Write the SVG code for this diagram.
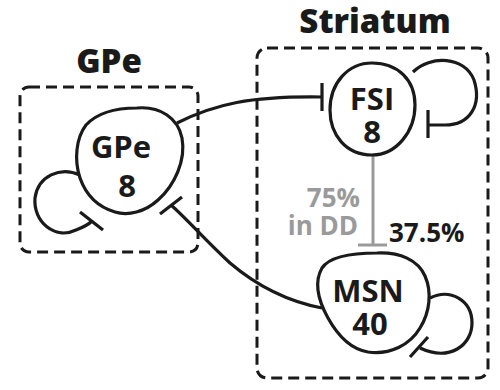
<svg xmlns="http://www.w3.org/2000/svg" width="500" height="390" viewBox="0 0 500 390">
  <style>
    .region { fill: none; stroke: #1a1a1a; stroke-width: 3; stroke-dasharray: 11 6; }
    .title { font-family: "Open Sans", "Liberation Sans", sans-serif; font-weight: 800; font-size: 33px; fill: #1a1a1a; text-anchor: middle; }
    .cell { fill: #ffffff; stroke: #1a1a1a; stroke-width: 3.2; }
    .label { font-family: "Open Sans", "Liberation Sans", sans-serif; font-weight: 700; font-size: 31px; fill: #1a1a1a; text-anchor: middle; }
    .edge { fill: none; stroke: #1a1a1a; stroke-width: 3.2; stroke-linecap: butt; }
    .gray { fill: none; stroke: #9a9a9a; stroke-width: 3; }
    .pct { font-family: "Open Sans", "Liberation Sans", sans-serif; font-weight: 700; font-size: 26px; }
  </style>

  <!-- regions -->
  <g id="region-gpe">
    <rect class="region" x="20" y="87" width="178" height="165" rx="9"/>
    <text class="title" x="109" y="73">GPe</text>
  </g>
  <g id="region-striatum">
    <rect class="region" x="257" y="48" width="231" height="330" rx="10"/>
    <text class="title" x="375" y="33">Striatum</text>
  </g>

  <!-- connectors -->
  <g id="connectors">
    <!-- GPe self inhibition -->
    <path class="edge" d="M 80,175 C 60,166 38,176 35,198 C 33,222 55,240 76,230 C 84,227 89,224 92,221"/>
    <line class="edge" x1="80" y1="212" x2="103" y2="230"/>
    <!-- GPe to FSI -->
    <path class="edge" d="M 177,123 C 215,104 250,96 322,97"/>
    <line class="edge" x1="322" y1="83" x2="322" y2="111"/>
    <!-- MSN to GPe -->
    <path class="edge" d="M 322,308 C 280,300 250,280 230,263 C 205,240 188,220 171,205"/>
    <line class="edge" x1="160" y1="214" x2="182" y2="197"/>
    <!-- FSI self inhibition -->
    <path class="edge" d="M 413,72 C 430,55 465,56 474,80 C 482,105 470,125 445,125 L 428,125"/>
    <line class="edge" x1="428" y1="110" x2="428" y2="138"/>
    <!-- MSN self inhibition -->
    <path class="edge" d="M 430,298 C 450,288 472,300 472,323 C 472,345 450,362 420,348"/>
    <line class="edge" x1="410" y1="357" x2="428" y2="337"/>
    <!-- FSI to MSN -->
    <line class="gray" x1="373" y1="155" x2="373" y2="245"/>
    <line class="gray" x1="358" y1="245" x2="387" y2="245"/>
    <text class="pct" x="360" y="207" text-anchor="end" fill="#9a9a9a">75%</text>
    <text class="pct" x="358" y="235" text-anchor="end" fill="#9a9a9a">in DD</text>
    <text class="pct" x="389" y="242" fill="#1a1a1a">37.5%</text>
  </g>

  <!-- nodes -->
  <g id="node-gpe">
    <path class="cell" d="M 137,108 C 160,106 178,118 182,138 C 186,160 175,185 158,200 C 145,212 128,216 115,212 C 98,207 86,195 80,178 C 74,160 76,138 86,125 C 98,112 118,108 137,108 Z"/>
    <text class="label" x="121" y="158">GPe</text>
    <text class="label" x="127" y="197">8</text>
  </g>
  <g id="node-fsi">
    <path class="cell" d="M 372,63 C 398,63 415,80 415,105 C 415,132 396,155 372,155 C 346,155 330,135 330,110 C 330,83 348,63 372,63 Z"/>
    <text class="label" x="372" y="110">FSI</text>
    <text class="label" x="372" y="143">8</text>
  </g>
  <g id="node-msn">
    <path class="cell" d="M 377,253 C 400,252 418,260 425,276 C 432,292 430,312 420,328 C 410,345 390,355 368,352 C 350,349 338,336 328,318 C 318,300 314,282 322,268 C 330,256 355,253 377,253 Z"/>
    <text class="label" x="368" y="302">MSN</text>
    <text class="label" x="370" y="335">40</text>
  </g>
</svg>
